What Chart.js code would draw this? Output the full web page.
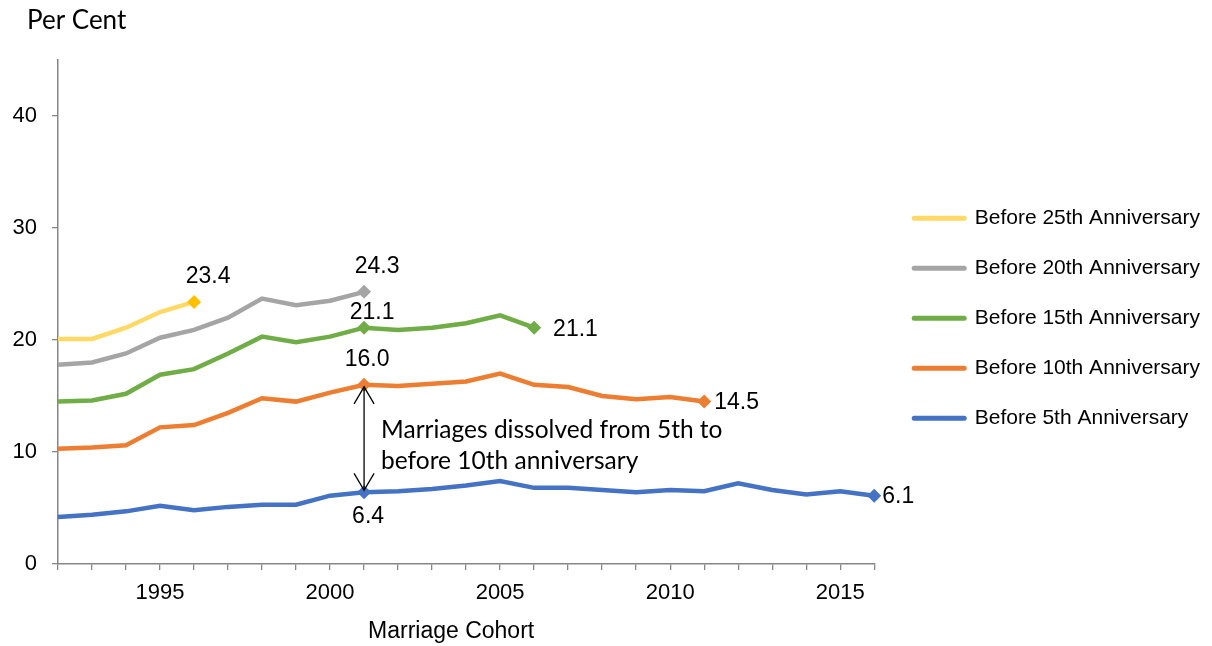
<!DOCTYPE html>
<html><head><meta charset="utf-8">
<script src="https://cdn.jsdelivr.net/npm/chart.js@4.4.0/dist/chart.umd.min.js"></script>
<style>html,body{margin:0;padding:0;background:#fff;overflow:hidden}#wrap{width:1212px;height:646px;position:relative}</style>
</head><body><div id="wrap"><canvas id="c"></canvas></div>
<script>
const years = [1992,1993,1994,1995,1996,1997,1998,1999,2000,2001,2002,2003,2004,2005,2006,2007,2008,2009,2010,2011,2012,2013,2014,2015,2016];
const before5  = [4.2,4.4,4.7,5.2,4.8,5.1,5.3,5.3,6.1,6.4,6.5,6.7,7.0,7.4,6.8,6.8,6.6,6.4,6.6,6.5,7.2,6.6,6.2,6.5,6.1];
const before10 = [10.3,10.4,10.6,12.2,12.4,13.5,14.8,14.5,15.3,16.0,15.9,16.1,16.3,17.0,16.0,15.8,15.0,14.7,14.9,14.5];
const before15 = [14.5,14.6,15.2,16.9,17.4,18.8,20.3,19.8,20.3,21.1,20.9,21.1,21.5,22.2,21.1];
const before20 = [17.8,18.0,18.8,20.2,20.9,22.0,23.7,23.1,23.5,24.3];
const before25 = [20.1,20.1,21.1,22.5,23.4];
const seriesNames = ['Before 25th Anniversary','Before 20th Anniversary','Before 15th Anniversary','Before 10th Anniversary','Before 5th Anniversary'];
const yTickValues = [0,10,20,30,40];
const xLabelYears = [1995,2000,2005,2010,2015];
const annotationText = ['Marriages dissolved from 5th to','before 10th anniversary'];
const yAxisTitle = 'Per Cent';
const xAxisTitle = 'Marriage Cohort';
const markerYear = 2001;

const colors = ['#FFD966','#A5A5A5','#70AD47','#ED7D31','#4472C4'];
const markerColors = ['#FFC000','#A5A5A5','#70AD47','#ED7D31','#4472C4'];
const allSeries = [before25,before20,before15,before10,before5];

function toPoints(vals){ return vals.map((v,i)=>({x:years[i],y:v})); }
function markerRadii(vals, mid){
  return vals.map((v,i)=> (i===vals.length-1 || (mid && years[i]===markerYear)) ? 7 : 0);
}

const datasets = allSeries.map((vals,k)=>({
  label: seriesNames[k],
  data: toPoints(vals),
  borderColor: colors[k],
  backgroundColor: markerColors[k],
  borderWidth: 4.5,
  tension: 0,
  clip: false,
  pointStyle: 'rectRot',
  pointRadius: markerRadii(vals, k>=2),
  pointHoverRadius: 0,
  pointBorderWidth: 0,
  pointBackgroundColor: markerColors[k],
  pointBorderColor: markerColors[k],
  order: 5-k
}));

// label placement: dataset index, year, offset of text centre (or left edge for 'left' align)
const labelSpecs = [
  {ds:0, year:1996, align:'center', dx:14, dy:-25},
  {ds:1, year:2001, align:'center', dx:13, dy:-25},
  {ds:2, year:2001, align:'center', dx:8,  dy:-15},
  {ds:2, year:2006, align:'left',   dx:19, dy:2},
  {ds:3, year:2001, align:'center', dx:3,  dy:-25},
  {ds:3, year:2011, align:'left',   dx:10, dy:1},
  {ds:4, year:2001, align:'center', dx:4,  dy:24},
  {ds:4, year:2016, align:'left',   dx:8,  dy:1}
];

const extras = {
  id:'extras',
  afterLayout(chart){
    const lg = chart.legend;
    if (lg){ lg.left += 11; lg.right += 11; lg.top -= 20; lg.bottom -= 20; }
  },
  afterDatasetsDraw(chart){
    const ctx = chart.ctx, xs = chart.scales.x, ys = chart.scales.y, ca = chart.chartArea;
    ctx.save();
    ctx.font = '23px "Liberation Sans", Arial, sans-serif';
    ctx.fillStyle = '#000';
    ctx.textBaseline='middle';
    labelSpecs.forEach(s=>{
      const v = allSeries[s.ds][years.indexOf(s.year)];
      const px = xs.getPixelForValue(s.year), py = ys.getPixelForValue(v);
      ctx.textAlign = s.align;
      ctx.fillText(v.toFixed(1), px+s.dx, py+s.dy);
    });
    // double-headed arrow between the two series at the marker year
    const ax = xs.getPixelForValue(markerYear);
    const yTop = ys.getPixelForValue(before10[years.indexOf(markerYear)]);
    const yBot = ys.getPixelForValue(before5[years.indexOf(markerYear)]);
    ctx.strokeStyle='#000'; ctx.lineWidth=1.3;
    ctx.beginPath(); ctx.moveTo(ax,yTop+2); ctx.lineTo(ax,yBot-2); ctx.stroke();
    ctx.beginPath();
    ctx.moveTo(ax-10,yTop+19); ctx.lineTo(ax,yTop+2); ctx.lineTo(ax+10,yTop+19);
    ctx.moveTo(ax-10,yBot-19); ctx.lineTo(ax,yBot-2); ctx.lineTo(ax+10,yBot-19);
    ctx.stroke();
    ctx.font = '24.5px Lato, "Open Sans", sans-serif';
    ctx.textAlign='left';
    ctx.fillText(annotationText[0], ax+17, yTop+45);
    ctx.fillText(annotationText[1], ax+17, yTop+76);
    ctx.font = '26px Lato, "Open Sans", sans-serif';
    ctx.fillText(yAxisTitle, 27, 21);
    // x-axis title, set slightly left of the plot centre as in the original
    ctx.font = '23px "Liberation Sans", Arial, sans-serif';
    ctx.textAlign='center';
    ctx.fillText(xAxisTitle, (ca.left+ca.right)/2 - 15, ca.bottom + 68);
    ctx.restore();
  }
};

const axisColor = '#868686';
const arial = '"Liberation Sans", Arial, sans-serif';
new Chart(document.getElementById('c'), {
  type:'line',
  data:{datasets},
  options:{
    responsive:true, maintainAspectRatio:false, animation:false,
    devicePixelRatio:1,
    layout:{padding:{top:60,left:12,right:13,bottom:29.6}},
    plugins:{
      tooltip:{enabled:false},
      legend:{
        position:'right',
        maxWidth:340,
        labels:{
          usePointStyle:true, pointStyleWidth:50, padding:29,
          font:{family:arial, size:21}, color:'#000',
          generateLabels(chart){
            return chart.data.datasets.map((d,i)=>({
              text:d.label, strokeStyle:d.borderColor, fillStyle:d.borderColor,
              lineWidth:5, lineCap:'round', pointStyle:'line', datasetIndex:i, hidden:false, fontColor:'#000'
            }));
          }
        }
      }
    },
    scales:{
      x:{
        type:'linear', min:years[0], max:years[years.length-1],
        grid:{display:true, drawOnChartArea:false, drawTicks:true, tickLength:6, color:axisColor, lineWidth:1.3},
        border:{color:axisColor, width:1.5},
        ticks:{stepSize:1, autoSkip:false, maxRotation:0, padding:10, color:'#000',
          font:{family:arial, size:22},
          callback:(v)=> xLabelYears.includes(v) ? String(v) : ''},
        title:{display:false}
      },
      y:{
        min:0, max:45,
        afterBuildTicks(scale){ scale.ticks = yTickValues.map(v=>({value:v})); },
        afterFit(scale){ scale.width = 46; },
        grid:{display:true, drawOnChartArea:false, drawTicks:true, tickLength:6, color:axisColor, lineWidth:1.3},
        border:{color:axisColor, width:1.5},
        ticks:{padding:15, color:'#000', font:{family:arial, size:22}}
      }
    }
  },
  plugins:[extras]
});
</script></body></html>
